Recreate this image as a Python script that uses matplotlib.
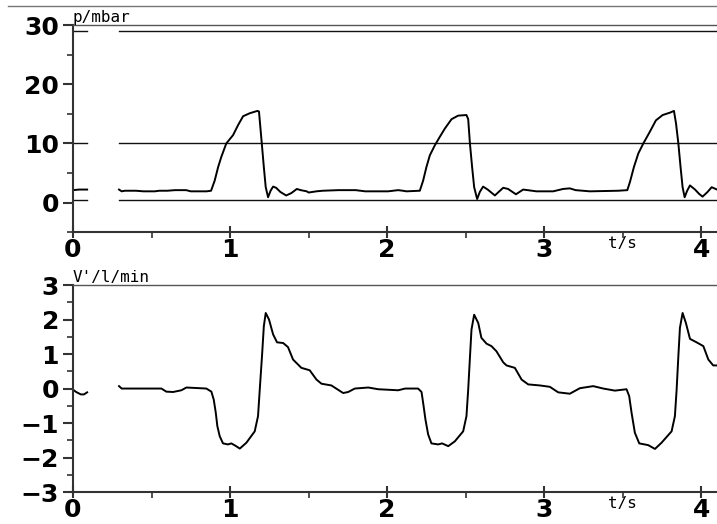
import matplotlib
matplotlib.use("Agg")
import matplotlib.pyplot as plt
from matplotlib.lines import Line2D
from matplotlib.ticker import MultipleLocator

# pressure trace, mbar (left piece before the sweep gap, then main piece)
t_p_left = [0.0, 0.04, 0.09]
p_left = [2.1, 2.2, 2.2]
t_p = [0.293, 0.31, 0.33, 0.40, 0.45, 0.52, 0.55, 0.60, 0.65, 0.72, 0.75, 0.85,
       0.879, 0.902, 0.924, 0.944, 0.976, 1.019, 1.051, 1.083, 1.125, 1.174, 1.184,
       1.200, 1.215, 1.227, 1.242, 1.258, 1.274, 1.293, 1.320, 1.357, 1.39, 1.425,
       1.45, 1.488, 1.50, 1.55, 1.59, 1.69, 1.80, 1.86, 2.006, 2.07, 2.10, 2.123,
       2.208, 2.229, 2.25, 2.272, 2.304, 2.335, 2.367, 2.41, 2.452, 2.505, 2.516,
       2.527, 2.541, 2.554, 2.573, 2.59, 2.611, 2.64, 2.686, 2.71, 2.739, 2.77,
       2.82, 2.866, 2.95, 3.057, 3.12, 3.163, 3.20, 3.29, 3.471, 3.529, 3.546,
       3.571, 3.599, 3.631, 3.673, 3.711, 3.754, 3.80, 3.826, 3.839, 3.854, 3.868,
       3.881, 3.894, 3.91, 3.928, 3.96, 3.985, 4.008, 4.04, 4.066, 4.1]
p_vals = [2.2, 1.9, 2.0, 2.0, 1.9, 1.9, 2.0, 2.0, 2.1, 2.1, 1.9, 1.9,
          2.0, 3.7, 6.0, 7.7, 10.0, 11.4, 13.1, 14.6, 15.1, 15.5, 15.4,
          10.6, 6.0, 2.6, 0.9, 2.0, 2.7, 2.5, 1.8, 1.2, 1.6, 2.3,
          2.1, 1.9, 1.7, 1.9, 2.0, 2.1, 2.1, 1.9, 1.9, 2.1, 2.0, 1.9,
          2.0, 3.7, 6.0, 8.0, 9.7, 11.1, 12.5, 14.1, 14.7, 14.8, 14.1,
          10.0, 6.0, 2.6, 0.6, 1.8, 2.7, 2.2, 1.2, 1.8, 2.5, 2.3,
          1.4, 2.2, 1.9, 1.9, 2.3, 2.4, 2.1, 1.9, 2.0, 2.1, 3.5,
          6.0, 8.3, 10.0, 12.0, 13.9, 14.8, 15.2, 15.5, 13.4, 10.0, 6.0,
          2.6, 0.9, 2.0, 2.9, 2.2, 1.5, 1.0, 1.8, 2.6, 2.2]
p_levels = [29, 10, 0.5]

# flow trace, l/min
t_f_left = [0.0, 0.02, 0.05, 0.07, 0.09]
f_left = [-0.03, -0.10, -0.17, -0.17, -0.11]
t_f = [0.293, 0.31, 0.563, 0.594, 0.637, 0.69, 0.722, 0.765, 0.849, 0.881,
       0.896, 0.909, 0.919, 0.934, 0.955, 0.987, 1.008, 1.035, 1.062, 1.104,
       1.157, 1.178, 1.189, 1.204, 1.215, 1.227, 1.248, 1.274, 1.299, 1.338,
       1.369, 1.401, 1.454, 1.507, 1.55, 1.582, 1.645, 1.72, 1.752, 1.794,
       1.88, 1.943, 2.07, 2.115, 2.197, 2.219, 2.229, 2.244, 2.261, 2.282,
       2.325, 2.35, 2.389, 2.431, 2.484, 2.505, 2.516, 2.527, 2.537, 2.554,
       2.58, 2.60, 2.633, 2.664, 2.696, 2.739, 2.76, 2.813, 2.856, 2.898,
       2.972, 3.036, 3.089, 3.163, 3.227, 3.312, 3.376, 3.45, 3.524, 3.541,
       3.556, 3.577, 3.605, 3.662, 3.705, 3.747, 3.811, 3.832, 3.843, 3.854,
       3.864, 3.881, 3.902, 3.928, 3.97, 4.013, 4.045, 4.076, 4.1]
f_vals = [0.07, 0.0, 0.0, -0.09, -0.10, -0.05, 0.03, 0.02, 0.0, -0.09,
          -0.32, -0.70, -1.09, -1.38, -1.59, -1.62, -1.59, -1.66, -1.74, -1.57,
          -1.24, -0.80, -0.03, 0.99, 1.81, 2.19, 2.00, 1.57, 1.34, 1.32,
          1.20, 0.84, 0.60, 0.53, 0.26, 0.14, 0.09, -0.13, -0.10, 0.0,
          0.03, -0.02, -0.05, 0.0, 0.0, -0.10, -0.41, -0.90, -1.33, -1.59,
          -1.62, -1.59, -1.67, -1.53, -1.24, -0.80, -0.03, 0.89, 1.71, 2.14,
          1.90, 1.47, 1.30, 1.23, 1.08, 0.76, 0.67, 0.60, 0.26, 0.12,
          0.09, 0.05, -0.11, -0.15, 0.01, 0.07, 0.0, -0.06, -0.02, -0.22,
          -0.70, -1.28, -1.59, -1.64, -1.75, -1.57, -1.24, -0.80, -0.03, 0.94,
          1.76, 2.19, 1.90, 1.44, 1.34, 1.23, 0.84, 0.67, 0.67]

# time ranges actually drawn (sweep gap in between)
seg_left = (0.0, 0.09)
seg_right = (0.293, 4.1)

x_ticks = [0, 1, 2, 3, 4]
p_ticks = [0, 10, 20, 30]
f_ticks = [-3, -2, -1, 0, 1, 2, 3]

TICK_FONT = dict(family="DejaVu Sans", weight="bold", size=18)
UNIT_FONT = dict(family="DejaVu Sans Mono", size=11.5)


def style_axis(ax, ylim, yticks, yminor, unit):
    ax.set_xlim(0, 4.1)
    ax.set_ylim(*ylim)
    ax.set_xticks(x_ticks)
    ax.set_yticks(yticks)
    ax.xaxis.set_minor_locator(MultipleLocator(0.5))
    ax.yaxis.set_minor_locator(MultipleLocator(yminor))
    ax.set_xticklabels([str(v) for v in x_ticks], fontdict=TICK_FONT)
    ax.set_yticklabels([str(v).replace("-", "\u2212") for v in yticks], fontdict=TICK_FONT)
    ax.tick_params(axis="y", which="major", direction="out", length=7, width=1.5,
                   pad=3, color="#333333")
    ax.tick_params(axis="y", which="minor", direction="out", length=4, width=1.2,
                   color="#333333")
    ax.tick_params(axis="x", which="major", direction="inout", length=8, width=1.5,
                   pad=0, color="#333333")
    ax.tick_params(axis="x", which="minor", direction="out", length=4, width=1.2,
                   color="#333333")
    ax.spines["right"].set_visible(False)
    ax.spines["left"].set_linewidth(1.5)
    ax.spines["bottom"].set_linewidth(1.5)
    ax.spines["left"].set_color("#333333")
    ax.spines["bottom"].set_color("#333333")
    ax.spines["top"].set_linewidth(1.0)
    ax.spines["top"].set_color("#555555")
    ax.text(0.0, 1.0, unit, transform=ax.transAxes, ha="left", va="bottom",
            **UNIT_FONT)
    ax.annotate("t/s", xy=(3.5, 0), xycoords=("data", "axes fraction"),
                xytext=(0, -3), textcoords="offset points",
                ha="center", va="top", **UNIT_FONT)


def main():
    fig = plt.figure(figsize=(7.17, 5.24), dpi=100)
    fig.add_artist(Line2D([8 / 717, 1.0], [1 - 6 / 524, 1 - 6 / 524],
                          transform=fig.transFigure, color="#777777", lw=1.0))

    ax1 = fig.add_axes([0.1018, 0.557, 0.8982, 0.395])
    for lvl in p_levels:
        for a, b in (seg_left, seg_right):
            ax1.plot([a, b], [lvl, lvl], color="#111111", lw=1.0)
    ax1.plot(t_p_left, p_left, color="black", lw=1.4)
    ax1.plot(t_p, p_vals, color="black", lw=1.4)
    style_axis(ax1, (-5, 30), p_ticks, 5, "p/mbar")

    ax2 = fig.add_axes([0.1018, 0.061, 0.8982, 0.395])
    ax2.plot(t_f_left, f_left, color="black", lw=1.4)
    ax2.plot(t_f, f_vals, color="black", lw=1.4)
    style_axis(ax2, (-3, 3), f_ticks, 0.5, "V'/l/min")

    fig.savefig("out.png", dpi=100)
    plt.close(fig)


if __name__ == "__main__":
    main()
